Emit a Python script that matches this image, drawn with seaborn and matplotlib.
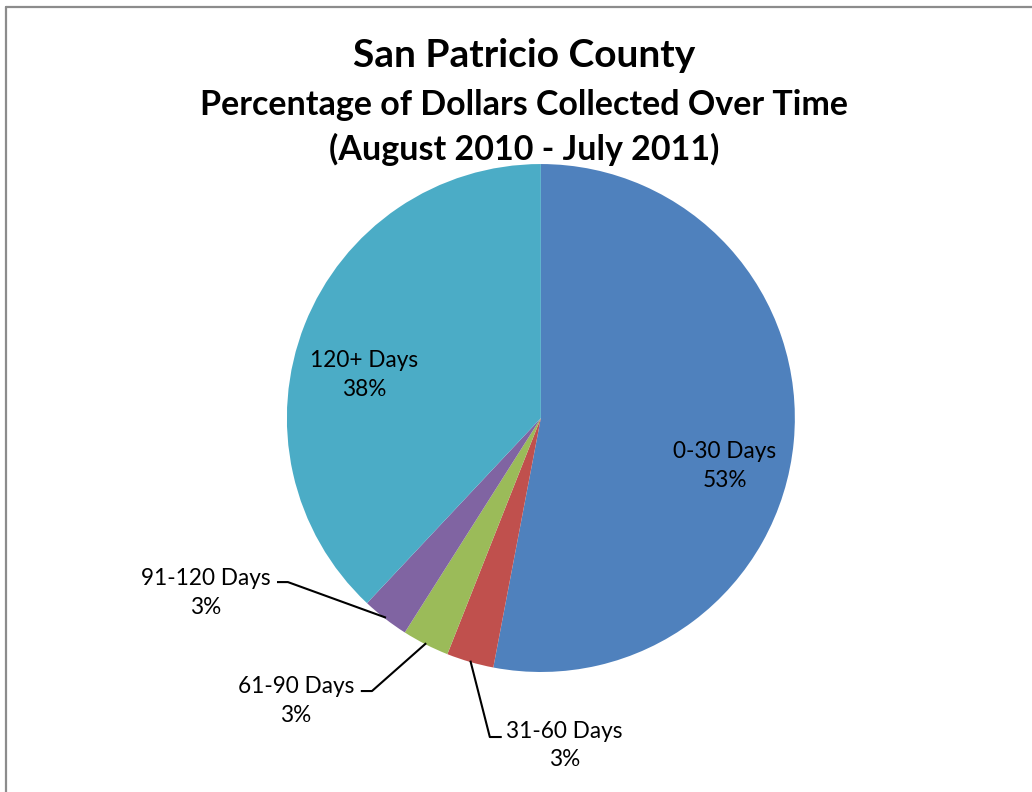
import numpy as np
import matplotlib
matplotlib.use("Agg")
import matplotlib.pyplot as plt
from matplotlib.lines import Line2D
import seaborn as sns

# data
categories = ["0-30 Days", "31-60 Days", "61-90 Days", "91-120 Days", "120+ Days"]
shares = [53, 3, 3, 3, 38]
colors = ["#4F81BD", "#C0504D", "#9BBB59", "#8064A2", "#4BACC6"]

sns.set_theme(style="white")
plt.rcParams["font.family"] = ["Lato", "DejaVu Sans"]
plt.rcParams["text.color"] = "black"

fig = plt.figure(figsize=(10.32, 7.92), dpi=100)
ax = fig.add_axes([0.278, 0.1515, 0.4922, 0.6414])

wedges, _ = ax.pie(shares, colors=colors, startangle=90, counterclock=False,
                   radius=1.0, wedgeprops=dict(linewidth=0))
ax.set_xlim(-1, 1)
ax.set_ylim(-1, 1)
ax.set_aspect("equal")
ax.axis("off")

# label placement (data units): text centre
label_pos = {
    "0-30 Days": (0.724, -0.19),
    "120+ Days": (-0.697, 0.17),
    "91-120 Days": (-1.32, -0.69),
    "61-90 Days": (-0.965, -1.115),
    "31-60 Days": (0.094, -1.29),
}
leaders = {
    # (elbow x, line y, end x)
    "91-120 Days": (-0.996, -0.646, -1.039),
    "61-90 Days": (-0.665, -1.075, -0.709),
    "31-60 Days": (-0.201, -1.256, -0.154),
}

for w, cat, val in zip(wedges, categories, shares):
    tx, ty = label_pos[cat]
    ax.text(tx, ty, f"{cat}\n{val}%", ha="center", va="center", fontsize=16.3,
            color="black", linespacing=1.45, clip_on=False)
    if cat in leaders:
        mid = np.deg2rad((w.theta1 + w.theta2) / 2)
        ax0, ay0 = np.cos(mid) * 0.995, np.sin(mid) * 0.995
        ex, ly, endx = leaders[cat]
        ax.plot([ax0, ex, endx], [ay0, ly, ly], color="black", lw=1.5,
                clip_on=False, solid_capstyle="butt")

# titles
tx = 524 / 1032
fig.text(tx, 1 - 67 / 792, "San Patricio County", ha="center", va="baseline",
         fontsize=28, fontweight="bold", color="black")
fig.text(tx, 1 - 115 / 792, "Percentage of Dollars Collected Over Time",
         ha="center", va="baseline", fontsize=24.5, fontweight="bold", color="black")
fig.text(tx, 1 - 160 / 792, "(August 2010 - July 2011)", ha="center",
         va="baseline", fontsize=24.5, fontweight="bold", color="black")

# chart border (top and left visible)
fig.add_artist(Line2D([5.5 / 1032, 1.0], [1 - 6.5 / 792, 1 - 6.5 / 792],
                      color="#8c8c8c", lw=1.6, transform=fig.transFigure))
fig.add_artist(Line2D([5.5 / 1032, 5.5 / 1032], [0, 1 - 6.5 / 792],
                      color="#8c8c8c", lw=1.6, transform=fig.transFigure))

fig.savefig("out.png", dpi=100)
